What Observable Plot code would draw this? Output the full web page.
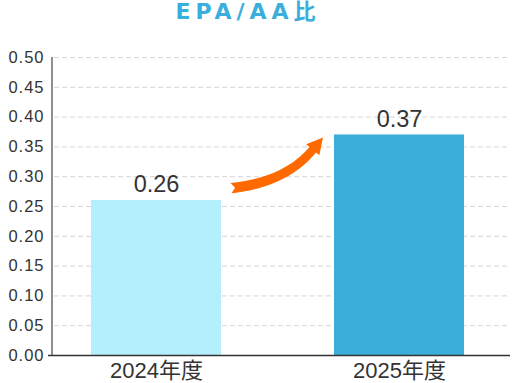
<!DOCTYPE html>
<html><head><meta charset="utf-8">
<script src="https://cdn.jsdelivr.net/npm/d3@7"></script>
<script src="https://cdn.jsdelivr.net/npm/@observablehq/plot@0.6"></script>
<style>
body{margin:0;background:#fff;}
#title{width:518px;height:30px;box-sizing:border-box;padding-right:22px;text-align:center;
 font-family:"DejaVu Sans","Noto Sans CJK JP",sans-serif;font-weight:bold;font-size:22px;line-height:23px;letter-spacing:5px;color:#3aaedc;}
g[aria-label="y-axis tick label"] text{letter-spacing:1px;}
</style></head>
<body>
<div id="title">EPA/AA比</div>
<div id="chart"></div>
<script>
const categories = ["2024年度", "2025年度"];
const values = [0.26, 0.37];
const yTicks = [0, 0.05, 0.1, 0.15, 0.2, 0.25, 0.3, 0.35, 0.4, 0.45, 0.5];
const barColors = ["#b3effc", "#3aaed9"];
const arrowFrom = ["2024年度", 0.28];
const arrowTo = ["2025年度", 0.365];

const data = categories.map((c, i) => ({cat: c, value: values[i], color: barColors[i]}));
const svgNS = "http://www.w3.org/2000/svg";

function yAxisLine(index, scales, values, dimensions) {
  const line = document.createElementNS(svgNS, "line");
  const x0 = dimensions.marginLeft;
  line.setAttribute("x1", x0); line.setAttribute("x2", x0);
  line.setAttribute("y1", scales.y(yTicks[yTicks.length - 1]));
  line.setAttribute("y2", scales.y(yTicks[0]));
  line.setAttribute("stroke", "#444");
  line.setAttribute("stroke-width", 1.2);
  return line;
}

function arrowMark(index, scales) {
  const x = scales.x, y = scales.y;
  const bw = typeof x.bandwidth === "function" ? x.bandwidth() : x.bandwidth;
  const T = [x(arrowFrom[0]) + bw + 10, y(arrowFrom[1])];
  const H = [x(arrowTo[0]) - 11, y(arrowTo[1])];
  const d = [0.641, -0.767];
  const headLen = 16, headHalf = 8.6;
  const N = [H[0] - headLen * d[0], H[1] - headLen * d[1]];
  const s0 = [1, -0.1];
  const det = s0[0] * (-d[1]) - s0[1] * (-d[0]);
  const rx = N[0] - T[0], ry = N[1] - T[1];
  const t = (rx * (-d[1]) - ry * (-d[0])) / det;
  const C = [T[0] + t * s0[0], T[1] + t * s0[1]];
  const left = [], right = [];
  const n = 24;
  for (let i = 0; i <= n; i++) {
    const u = i / n;
    const px = (1-u)*(1-u)*T[0] + 2*(1-u)*u*C[0] + u*u*N[0];
    const py = (1-u)*(1-u)*T[1] + 2*(1-u)*u*C[1] + u*u*N[1];
    let tx = 2*(1-u)*(C[0]-T[0]) + 2*u*(N[0]-C[0]);
    let ty = 2*(1-u)*(C[1]-T[1]) + 2*u*(N[1]-C[1]);
    const L = Math.hypot(tx, ty); tx /= L; ty /= L;
    const w = 5.2 - 0.9 * u;
    left.push([px + ty * w, py - tx * w]);
    right.push([px - ty * w, py + tx * w]);
  }
  const nx = d[1], ny = -d[0];
  const pts = [...left,
    [N[0] + nx * headHalf, N[1] + ny * headHalf], H,
    [N[0] - nx * headHalf, N[1] - ny * headHalf],
    ...right.reverse(),
    [T[0] + 4 * s0[0], T[1] + 4 * s0[1]]];
  const path = document.createElementNS(svgNS, "path");
  path.setAttribute("d", "M" + pts.map(p => p[0].toFixed(2) + "," + p[1].toFixed(2)).join("L") + "Z");
  path.setAttribute("fill", "#ff6a00");
  return path;
}

const chart = Plot.plot({
  width: 518,
  height: 353,
  marginTop: 27,
  marginBottom: 28,
  marginLeft: 52,
  marginRight: 8,
  style: {fontFamily: "'Liberation Sans','Noto Sans CJK JP',sans-serif", color: "#333", background: "#fff"},
  x: {domain: categories, paddingInner: 0.465, paddingOuter: 0.1735, align: 0.46, label: null},
  y: {domain: [0, 0.5], label: null},
  marks: [
    Plot.ruleY(yTicks.slice(1), {stroke: "#d4d4d4", strokeDasharray: "5,3", strokeWidth: 1, insetLeft: 2}),
    Plot.barY(data, {x: "cat", y: "value", fill: "color"}),
    Plot.axisY({ticks: yTicks, tickFormat: d3.format(".2f"), tickSize: 0, tickPadding: 8, fontSize: 16.5, label: null}),
    Plot.axisX({tickSize: 0, tickPadding: 7, fontSize: 22, label: null}),
    yAxisLine,
    Plot.ruleY([0], {stroke: "#333", strokeWidth: 1.5, insetLeft: -4}),
    Plot.text(data, {x: "cat", y: "value", text: d => d.value.toFixed(2), fontSize: 23.5, fill: "#333", dy: -16}),
    arrowMark
  ]
});
document.getElementById("chart").appendChild(chart);
</script>
</body></html>
